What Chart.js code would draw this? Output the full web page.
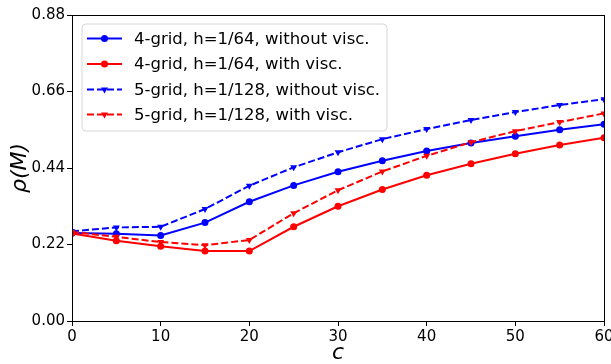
<!DOCTYPE html>
<html>
<head>
<meta charset="utf-8">
<script src="https://cdn.jsdelivr.net/npm/chart.js@4/dist/chart.umd.min.js"></script>
<style>
  html, body { margin: 0; padding: 0; background: #fff; }
  #wrap { width: 611px; height: 364px; }
</style>
</head>
<body>
<div id="wrap"><canvas id="rho-chart" width="611" height="364"></canvas></div>
<script>
// values
var cValues = [0, 5, 10, 15, 20, 25, 30, 35, 40, 45, 50, 55, 60];
var grid4NoVisc = [0.253, 0.251, 0.246, 0.283, 0.343, 0.390, 0.429, 0.461, 0.489, 0.512, 0.531, 0.550, 0.566];
var grid4Visc   = [0.252, 0.231, 0.215, 0.201, 0.201, 0.271, 0.330, 0.378, 0.419, 0.452, 0.481, 0.506, 0.527];
var grid5NoVisc = [0.258, 0.269, 0.271, 0.322, 0.389, 0.442, 0.485, 0.523, 0.552, 0.578, 0.601, 0.621, 0.638];
var grid5Visc   = [0.256, 0.242, 0.227, 0.218, 0.233, 0.310, 0.376, 0.430, 0.475, 0.514, 0.546, 0.572, 0.597];
var seriesLabels = [
    '4-grid, h=1/64, without visc.',
    '4-grid, h=1/64, with visc.',
    '5-grid, h=1/128, without visc.',
    '5-grid, h=1/128, with visc.'
];
var yTicks = [0, 0.22, 0.44, 0.66, 0.88];

var FONT = "'DejaVu Sans', sans-serif";

function pts(arr) {
    return arr.map(function(v, i) { return {x: cValues[i], y: v}; });
}

function makeSet(label, data, color, dashed, order) {
    return {
        label: label,
        data: pts(data),
        borderColor: color,
        backgroundColor: color,
        borderWidth: 2,
        borderDash: dashed ? [7, 3] : [],
        pointStyle: dashed ? 'triangle' : 'circle',
        pointRotation: dashed ? 180 : 0,
        pointRadius: dashed ? 4 : 3.5,
        pointBorderWidth: 0,
        tension: 0,
        clip: 0,
        order: order
    };
}

// box around the plot + legend inside the axes
var framePlugin = {
    id: 'frame',
    afterDraw: function(chart) {
        var ctx = chart.ctx, a = chart.chartArea;
        ctx.save();
        ctx.strokeStyle = '#000';
        ctx.lineWidth = 1;
        ctx.strokeRect(Math.round(a.left) + 0.5, Math.round(a.top) + 0.5,
            Math.round(a.right - a.left), Math.round(a.bottom - a.top));

        // legend
        var x0 = 82, y0 = 24, w = 305, h = 107, r = 4;
        ctx.beginPath();
        ctx.moveTo(x0 + r, y0);
        ctx.arcTo(x0 + w, y0, x0 + w, y0 + h, r);
        ctx.arcTo(x0 + w, y0 + h, x0, y0 + h, r);
        ctx.arcTo(x0, y0 + h, x0, y0, r);
        ctx.arcTo(x0, y0, x0 + w, y0, r);
        ctx.closePath();
        ctx.fillStyle = 'rgba(255,255,255,0.8)';
        ctx.fill();
        ctx.strokeStyle = '#d6d6d6';
        ctx.stroke();

        var rows = [38.5, 64, 89.5, 114.5];
        chart.data.datasets.forEach(function(ds, i) {
            var y = rows[i];
            ctx.save();
            ctx.strokeStyle = ds.borderColor;
            ctx.lineWidth = 2;
            ctx.setLineDash(ds.borderDash);
            ctx.beginPath();
            ctx.moveTo(87, y);
            ctx.lineTo(122, y);
            ctx.stroke();
            ctx.setLineDash([]);
            ctx.fillStyle = ds.backgroundColor;
            Chart.helpers.drawPoint(ctx, {
                pointStyle: ds.pointStyle,
                rotation: ds.pointRotation,
                radius: ds.pointRadius,
                borderWidth: 0
            }, 104.5, y);
            ctx.restore();
            ctx.fillStyle = '#000';
            ctx.font = '16.5px ' + FONT;
            ctx.textBaseline = 'middle';
            ctx.textAlign = 'left';
            ctx.fillText(ds.label, 134, y + 1);
        });
        ctx.restore();
    }
};

new Chart(document.getElementById('rho-chart').getContext('2d'), {
    type: 'line',
    data: {
        datasets: [
            makeSet(seriesLabels[0], grid4NoVisc, '#0000ff', false, 3),
            makeSet(seriesLabels[1], grid4Visc, '#ff0000', false, 2),
            makeSet(seriesLabels[2], grid5NoVisc, '#0000ff', true, 1),
            makeSet(seriesLabels[3], grid5Visc, '#ff0000', true, 0)
        ]
    },
    options: {
        responsive: false,
        animation: false,
        events: [],
        layout: { padding: { left: 0, right: 7, top: 15, bottom: 0 } },
        plugins: {
            legend: { display: false },
            tooltip: { enabled: false }
        },
        scales: {
            x: {
                type: 'linear',
                min: 0,
                max: 60,
                ticks: {
                    stepSize: 10,
                    padding: 2,
                    color: '#000',
                    maxRotation: 0,
                    font: { family: FONT, size: 15 }
                },
                grid: { display: true, drawOnChartArea: false, drawTicks: true, tickLength: 5, color: '#000' },
                border: { display: true, color: '#000', width: 1 },
                title: {
                    display: true,
                    text: 'c',
                    color: '#000',
                    padding: { top: 0, bottom: 0 },
                    font: { family: FONT, size: 22, style: 'italic', lineHeight: 1 }
                },
                afterFit: function(s) { s.height = 43; s.paddingLeft = 0; s.paddingRight = 0; }
            },
            y: {
                min: 0,
                max: 0.88,
                afterBuildTicks: function(s) { s.ticks = yTicks.map(function(v) { return {value: v}; }); },
                ticks: {
                    padding: 2,
                    color: '#000',
                    font: { family: FONT, size: 15 },
                    callback: function(v) { return Number(v).toFixed(2); }
                },
                grid: { display: true, drawOnChartArea: false, drawTicks: true, tickLength: 5, color: '#000' },
                border: { display: true, color: '#000', width: 1 },
                title: {
                    display: true,
                    text: 'ρ(M)',
                    color: '#000',
                    padding: { top: 7, bottom: 0 },
                    font: { family: FONT, size: 22, style: 'italic' }
                },
                afterFit: function(s) { s.width = 72; s.paddingTop = 0; s.paddingBottom = 0; }
            }
        }
    },
    plugins: [framePlugin]
});
</script>
</body>
</html>
